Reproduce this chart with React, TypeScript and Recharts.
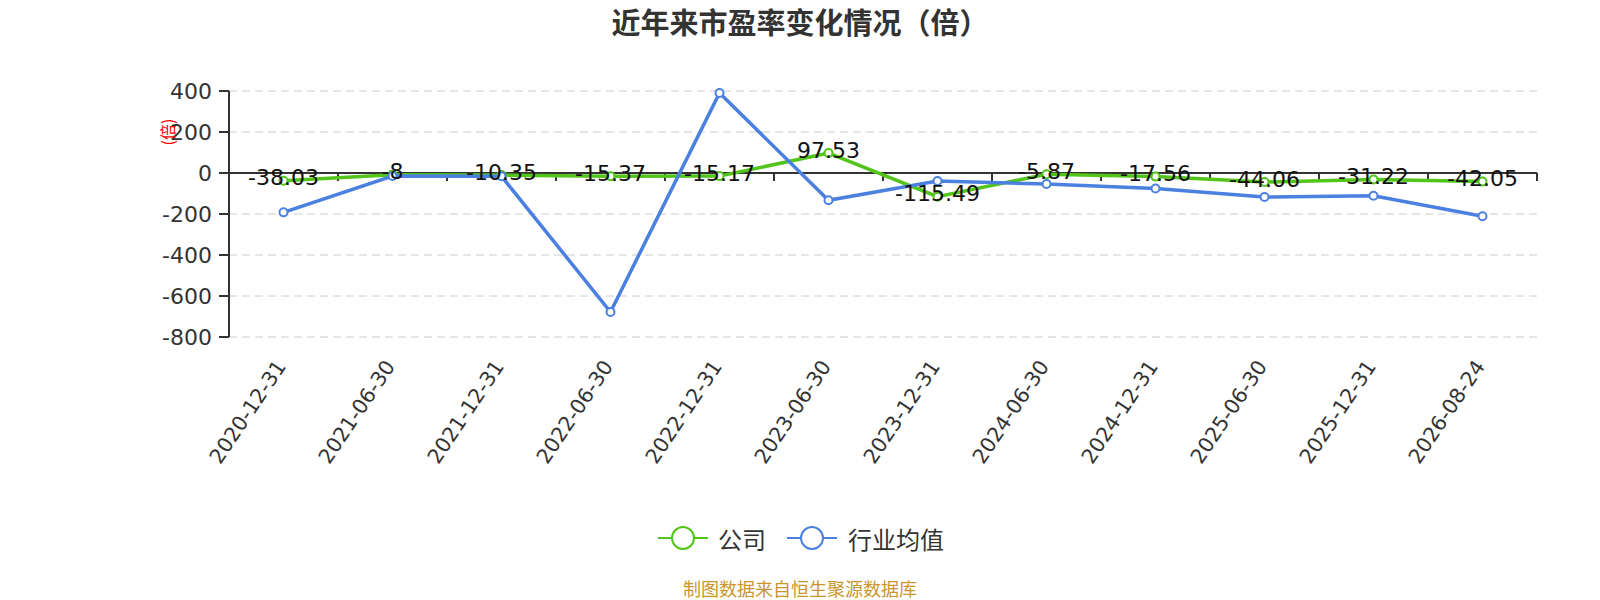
import React from 'react';
import { LineChart, Line, XAxis, YAxis, CartesianGrid, ReferenceLine, LabelList } from 'recharts';

const categories = [
  '2020-12-31', '2021-06-30', '2021-12-31', '2022-06-30', '2022-12-31', '2023-06-30',
  '2023-12-31', '2024-06-30', '2024-12-31', '2025-06-30', '2025-12-31', '2026-08-24',
];
const companyValues = [-38.03, -8, -10.35, -15.37, -15.17, 97.53, -115.49, -5.87, -17.56, -44.06, -31.22, -42.05];
const industryValues = [-192, -15, -16, -678, 390, -133, -39, -54, -76, -117, -111, -211];
const yTicks = [-800, -600, -400, -200, 0, 200, 400];
const seriesNames = ['公司', '行业均值'];
const seriesColors = ['#52c41a', '#4b80e0'];
const titleText = '近年来市盈率变化情况（倍）';
const unitText = '(倍)';
const sourceText = '制图数据来自恒生聚源数据库';

const data = categories.map((c, i) => ({ date: c, company: companyValues[i], industry: industryValues[i] }));

const NUM_FONT = '"DejaVu Sans", sans-serif';
const CJK_FONT = '"Noto Sans CJK SC", "Noto Sans", sans-serif';

const W = 1584;
const H = 592;
const MARGIN = { top: 83, right: 55, left: 161, bottom: 133 };
const Y_AXIS_W = 60;
const PLOT_LEFT = MARGIN.left + Y_AXIS_W;
const PLOT_RIGHT = W - MARGIN.right;
const HALF_BAND = (PLOT_RIGHT - PLOT_LEFT) / categories.length / 2;

const XTick = (props: any) => {
  const { x, y, payload } = props;
  return (
    <g transform={`translate(${x - 2.5},${y + 25.5})`}>
      <text textAnchor="end" dominantBaseline="central" transform="rotate(-56)" fontSize={20.5} fill="#333" fontFamily={NUM_FONT}>
        {payload.value}
      </text>
    </g>
  );
};

const ZeroAxis = (props: any) => {
  const { y1 } = props;
  const n = categories.length;
  const step = (PLOT_RIGHT - PLOT_LEFT) / n;
  const ticks = [];
  for (let k = 1; k <= n; k++) {
    const tx = PLOT_LEFT + k * step;
    ticks.push(<line key={k} x1={tx} y1={y1} x2={tx} y2={y1 + 8} stroke="#333" strokeWidth={2} />);
  }
  return (
    <g>
      <line x1={PLOT_LEFT} y1={y1} x2={PLOT_RIGHT} y2={y1} stroke="#333" strokeWidth={2} />
      {ticks}
    </g>
  );
};

const ValueLabel = (props: any) => {
  const vb = props.viewBox || {};
  const x = props.x ?? vb.x;
  const y = props.y ?? vb.y;
  return (
    <text x={x} y={y - 3} textAnchor="middle" dominantBaseline="central" fontSize={22} fill="#111" fontFamily={NUM_FONT}>
      {String(props.value)}
    </text>
  );
};

export default function App() {
  return (
    <div style={{ position: 'relative', width: W, height: H }}>
      <LineChart width={W} height={H} data={data} margin={MARGIN}>
        <CartesianGrid vertical={false} stroke="#ccc" strokeDasharray="8 5" />
        <XAxis
          dataKey="date"
          axisLine={false}
          tickLine={false}
          tickSize={0}
          tickMargin={0}
          height={130}
          interval={0}
          padding={{ left: HALF_BAND, right: HALF_BAND }}
          tick={<XTick />}
        />
        <YAxis
          domain={[-800, 400]}
          ticks={yTicks}
          interval={0}
          width={Y_AXIS_W}
          axisLine={{ stroke: '#333', strokeWidth: 2 }}
          tickLine={{ stroke: '#333', strokeWidth: 2 }}
          tickSize={10}
          tickMargin={7}
          tick={{ fontSize: 22, fill: '#333', fontFamily: NUM_FONT }}
        />
        <ReferenceLine y={0} shape={(p: any) => <ZeroAxis {...p} />} />
        <Line
          type="linear"
          dataKey="company"
          name={seriesNames[0]}
          stroke={seriesColors[0]}
          strokeWidth={3.5}
          dot={{ r: 4, fill: '#fff', stroke: seriesColors[0], strokeWidth: 2 }}
          activeDot={false}
          isAnimationActive={false}
        >
          <LabelList dataKey="company" content={(p: any) => <ValueLabel {...p} />} />
        </Line>
        <Line
          type="linear"
          dataKey="industry"
          name={seriesNames[1]}
          stroke={seriesColors[1]}
          strokeWidth={3.5}
          dot={{ r: 4, fill: '#fff', stroke: seriesColors[1], strokeWidth: 2 }}
          activeDot={false}
          isAnimationActive={false}
        />
      </LineChart>
      <svg width={1600} height={600} style={{ position: 'absolute', left: -8, top: -8, pointerEvents: 'none' }}>
        <text x={800} y={21} textAnchor="middle" dominantBaseline="central" fontSize={29} fontWeight="bold" fill="#333" fontFamily={CJK_FONT}>
          {titleText}
        </text>
        <text x={167} y={132} textAnchor="middle" dominantBaseline="central" fontSize={16} fill="#f00" fontFamily={CJK_FONT} transform="rotate(-90 167 132)">
          {unitText}
        </text>
        <g>
          <line x1={658} y1={538} x2={708} y2={538} stroke={seriesColors[0]} strokeWidth={2} />
          <circle cx={683} cy={538} r={11} fill="#fff" stroke={seriesColors[0]} strokeWidth={2} />
          <text x={718} y={538} dominantBaseline="central" fontSize={24} fill="#333" fontFamily={CJK_FONT}>{seriesNames[0]}</text>
          <line x1={787} y1={538} x2={837} y2={538} stroke={seriesColors[1]} strokeWidth={2} />
          <circle cx={812} cy={538} r={11} fill="#fff" stroke={seriesColors[1]} strokeWidth={2} />
          <text x={848} y={538} dominantBaseline="central" fontSize={24} fill="#333" fontFamily={CJK_FONT}>{seriesNames[1]}</text>
        </g>
        <text x={800} y={588} textAnchor="middle" dominantBaseline="central" fontSize={18} fill="#c9962b" fontFamily={CJK_FONT}>
          {sourceText}
        </text>
      </svg>
    </div>
  );
}
